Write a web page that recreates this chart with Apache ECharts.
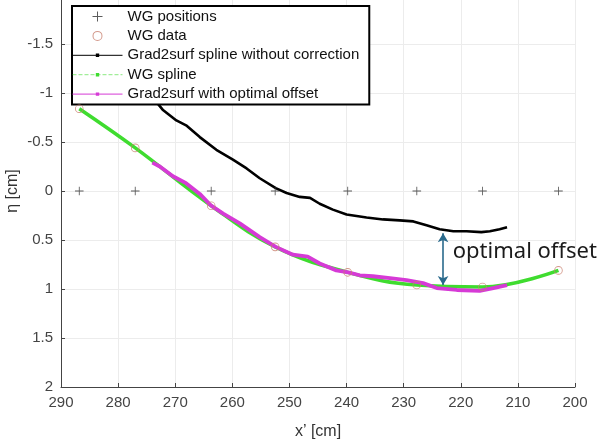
<!DOCTYPE html>
<html>
<head>
<meta charset="utf-8">
<title>Grad2surf offset</title>
<script src="https://cdn.jsdelivr.net/npm/echarts@6/dist/echarts.min.js"></script>
<style>html,body{margin:0;padding:0;background:#fff}#chart{width:601px;height:446px}</style>
</head>
<body>
<div id="chart"></div>
<script>
// wave gauges: position along x' [cm] and measured eta [cm]
var wgX   = [286.8, 277.0, 263.7, 252.5, 239.8, 227.7, 216.2, 202.9];
var wgEta = [-0.84, -0.44, 0.15, 0.57, 0.83, 0.96, 0.98, 0.81];

// Grad2surf spline without correction
var rawX   = [274.5, 273.6, 272.2, 269.8, 268.1, 265.7, 262.8, 259.9, 257.5, 255.2, 252.4, 250.5, 248.2, 246.4, 244.7,
              242.4, 240.0, 236.5, 233.6, 230.7, 228.3, 226.0, 223.7, 221.3, 219.0, 216.4, 214.9, 213.2, 211.9];
var rawEta = [-0.98, -0.93, -0.83, -0.72, -0.67, -0.55, -0.42, -0.32, -0.23, -0.13, -0.03, 0.02, 0.06, 0.07, 0.13,
              0.19, 0.24, 0.27, 0.29, 0.30, 0.31, 0.35, 0.39, 0.41, 0.41, 0.42, 0.41, 0.39, 0.37];

// Grad2surf with optimal offset
var optX   = [274.0, 272.7, 270.4, 268.1, 265.7, 263.7, 261.6, 258.7, 255.2, 252.4, 249.4, 246.8, 244.7, 241.8, 239.7,
              237.7, 235.4, 232.4, 229.5, 226.6, 224.2, 220.7, 216.7, 214.3, 211.9];
var optEta = [-0.29, -0.25, -0.15, -0.08, 0.03, 0.15, 0.23, 0.33, 0.47, 0.57, 0.65, 0.67, 0.74, 0.81, 0.83,
              0.86, 0.87, 0.89, 0.91, 0.94, 0.99, 1.01, 1.02, 0.99, 0.96];

// offset arrow + its label
var arrowX = 223.1;
var arrowEta = [0.43, 0.96];
var offsetLabel = 'optimal offset';
var offsetLabelPos = [221.4, 0.62];

var xTicks = [290, 280, 270, 260, 250, 240, 230, 220, 210, 200];
var etaTicks = [-2, -1.5, -1, -0.5, 0, 0.5, 1, 1.5, 2];

function pairs(xs, ys) {
    return xs.map(function (x, i) { return [x, ys[i]]; });
}

// symbols padded with tiny corner points so the visible part keeps a fixed size
var plusSym = 'path://M0,0h0.01v0.01zM14,14h-0.01v-0.01zM6.5,2h1v4.5h4.5v1h-4.5v4.5h-1v-4.5h-4.5v-1h4.5z';
var ringSym = 'path://M0,0h0.01v0.01zM14,14h-0.01v-0.01zM7,2a5,5 0 1,1 -0.01,0zM7,3a4,4 0 1,0 0.01,0z';
var dotSym  = 'path://M0,0h0.01v0.01zM10,10h-0.01v-0.01zM3.5,3.5h3v3h-3z';

var font = 'Liberation Sans, Arial, sans-serif';
var axisCol = '#444';

var option = {
    animation: false,
    backgroundColor: '#fff',
    grid: { left: 61, right: 26, top: -5, bottom: 59, outerBoundsMode: 'none' },
    legend: {
        orient: 'vertical',
        left: 72, top: 6,
        padding: [3, 10, 3, 0],
        itemWidth: 50, itemHeight: 14, itemGap: 4.4,
        backgroundColor: '#fff',
        borderColor: '#000', borderWidth: 2,
        selectedMode: false,
        textStyle: { fontFamily: font, fontSize: 15, color: '#111' },
        data: [
            { name: 'WG positions' },
            { name: 'WG data' },
            { name: 'Grad2surf spline without correction', lineStyle: { width: 1 } },
            { name: 'WG spline', lineStyle: { width: 1, type: 'dashed', opacity: 0.6 } },
            { name: 'Grad2surf with optimal offset', lineStyle: { width: 1 } }
        ]
    },
    xAxis: {
        type: 'value',
        inverse: true,
        min: xTicks[xTicks.length - 1], max: xTicks[0], interval: 10,
        name: 'x\u2019 [cm]', nameLocation: 'middle', nameGap: 37, nameMoveOverlap: false,
        nameTextStyle: { fontFamily: font, fontSize: 16, color: '#333' },
        axisLine: { show: true, onZero: false, lineStyle: { color: axisCol, width: 1 } },
        axisTick: { show: true, inside: true, length: 4, lineStyle: { color: axisCol } },
        axisLabel: { fontFamily: font, fontSize: 15, color: '#444', margin: 8 },
        splitLine: { lineStyle: { color: '#ececec' } }
    },
    yAxis: {
        type: 'value',
        inverse: true,
        min: etaTicks[0], max: etaTicks[etaTicks.length - 1], interval: 0.5,
        name: '\u03b7 [cm]', nameLocation: 'middle', nameGap: 40, nameMoveOverlap: false,
        nameTextStyle: { fontFamily: font, fontSize: 16, color: '#333' },
        axisLine: { show: true, onZero: false, lineStyle: { color: axisCol, width: 1 } },
        axisTick: { show: true, inside: true, length: 4, lineStyle: { color: axisCol } },
        axisLabel: {
            fontFamily: font, fontSize: 15, color: '#444', margin: 8,
            formatter: function (v) { return v === etaTicks[0] ? '' : String(v); }
        },
        splitLine: { lineStyle: { color: '#ececec' } }
    },
    series: [
        {
            name: 'WG spline',
            type: 'line',
            data: pairs(wgX, wgEta),
            smooth: 0.4,
            symbol: dotSym, showSymbol: false,
            itemStyle: { color: '#3fdc2f' },
            lineStyle: { color: '#3fdc2f', width: 3.5 },
            z: 2
        },
        {
            name: 'Grad2surf spline without correction',
            type: 'line',
            data: pairs(rawX, rawEta),
            symbol: dotSym, showSymbol: false,
            itemStyle: { color: '#000' },
            lineStyle: { color: '#000', width: 2.6 },
            markPoint: {
                symbol: 'circle', symbolSize: 0, silent: true,
                data: [{ coord: offsetLabelPos, value: offsetLabel }],
                label: {
                    show: true, position: 'right', distance: 0,
                    formatter: offsetLabel,
                    fontFamily: 'Noto Sans', fontSize: 22, color: '#1a1a1a'
                }
            },
            z: 3
        },
        {
            name: 'Grad2surf with optimal offset',
            type: 'line',
            data: pairs(optX, optEta),
            symbol: dotSym, showSymbol: false,
            itemStyle: { color: '#d63ad6' },
            lineStyle: { color: '#d63ad6', width: 3.8 },
            markLine: {
                silent: true,
                symbol: ['arrow', 'arrow'], symbolSize: [8, 9],
                label: { show: false },
                lineStyle: { color: '#2a6a8c', width: 1.6, type: 'solid' },
                data: [[{ coord: [arrowX, arrowEta[0]] }, { coord: [arrowX, arrowEta[1]] }]]
            },
            z: 4
        },
        {
            name: 'WG positions',
            type: 'scatter',
            data: wgX.map(function (x) { return [x, 0]; }),
            symbol: plusSym, symbolSize: 12,
            itemStyle: { color: '#333' },
            z: 5
        },
        {
            name: 'WG data',
            type: 'scatter',
            data: pairs(wgX, wgEta),
            symbol: ringSym, symbolSize: 12,
            itemStyle: { color: '#c8806e' },
            z: 6
        }
    ]
};

var myChart = echarts.init(document.getElementById('chart'));
myChart.setOption(option);
</script>
</body>
</html>
